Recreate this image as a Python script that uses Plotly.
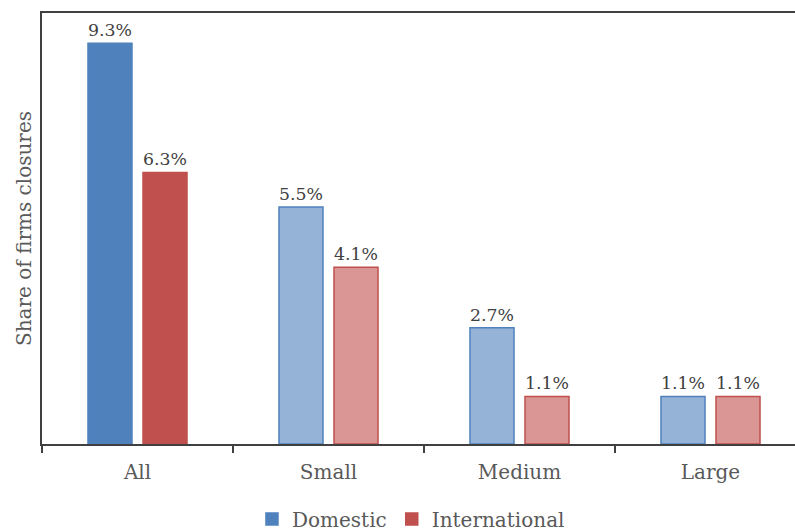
import plotly.graph_objects as go

# Firm closures by size class, domestic vs. international firms (%)
categories = ["All", "Small", "Medium", "Large"]
domestic = [9.3, 5.5, 2.7, 1.1]
international = [6.3, 4.1, 1.1, 1.1]

BLUE_DARK, BLUE_LIGHT = "#4F81BD", "#95B3D7"
RED_DARK, RED_LIGHT = "#C0504D", "#D99694"
FONT = "DejaVu Serif"
TEXT = "#404040"
LABEL = "#595959"


def shades(dark, light):
    # first group ("All") drawn solid, size classes drawn in the lighter tint
    return [dark] + [light] * (len(categories) - 1)


fig = go.Figure()
for name, vals, dark, light in [
    ("Domestic", domestic, BLUE_DARK, BLUE_LIGHT),
    ("International", international, RED_DARK, RED_LIGHT),
]:
    fig.add_trace(go.Bar(
        name=name,
        x=categories,
        y=vals,
        text=[f"{v:.1f}%" for v in vals],
        textposition="outside",
        textfont=dict(family=FONT, size=21, color=TEXT),
        marker=dict(color=shades(dark, light), line=dict(color=dark, width=1.5)),
        cliponaxis=False,
    ))

fig.update_layout(
    width=795, height=531,
    margin=dict(l=42, r=0, t=13, b=87, autoexpand=False),
    paper_bgcolor="white", plot_bgcolor="white",
    barmode="group", bargap=0.424, bargroupgap=0.2,
    font=dict(family=FONT, size=20, color=LABEL),
    showlegend=True,
    legend=dict(orientation="h", x=0.49, xanchor="center",
                yref="container", y=12 / 531, yanchor="middle",
                font=dict(family=FONT, size=20, color=LABEL),
                itemwidth=30, traceorder="normal"),
    xaxis=dict(
        range=[-0.5, -0.5 + 753 / 191],
        showline=True, linecolor="#404040", linewidth=1.5, mirror=True,
        ticks="outside", tickson="boundaries", ticklen=7, tickcolor="#404040", tickwidth=1.5,
        ticklabelstandoff=9,
        tickfont=dict(family=FONT, size=20, color=LABEL),
        showgrid=False, zeroline=False,
    ),
    yaxis=dict(
        range=[0, 10],
        showline=True, linecolor="#404040", linewidth=1.5,
        showticklabels=False, ticks="", showgrid=False, zeroline=False,
        title=dict(text="Share of firms closures", standoff=3,
                   font=dict(family=FONT, size=20, color=LABEL)),
    ),
)

fig.write_html("out.html")
